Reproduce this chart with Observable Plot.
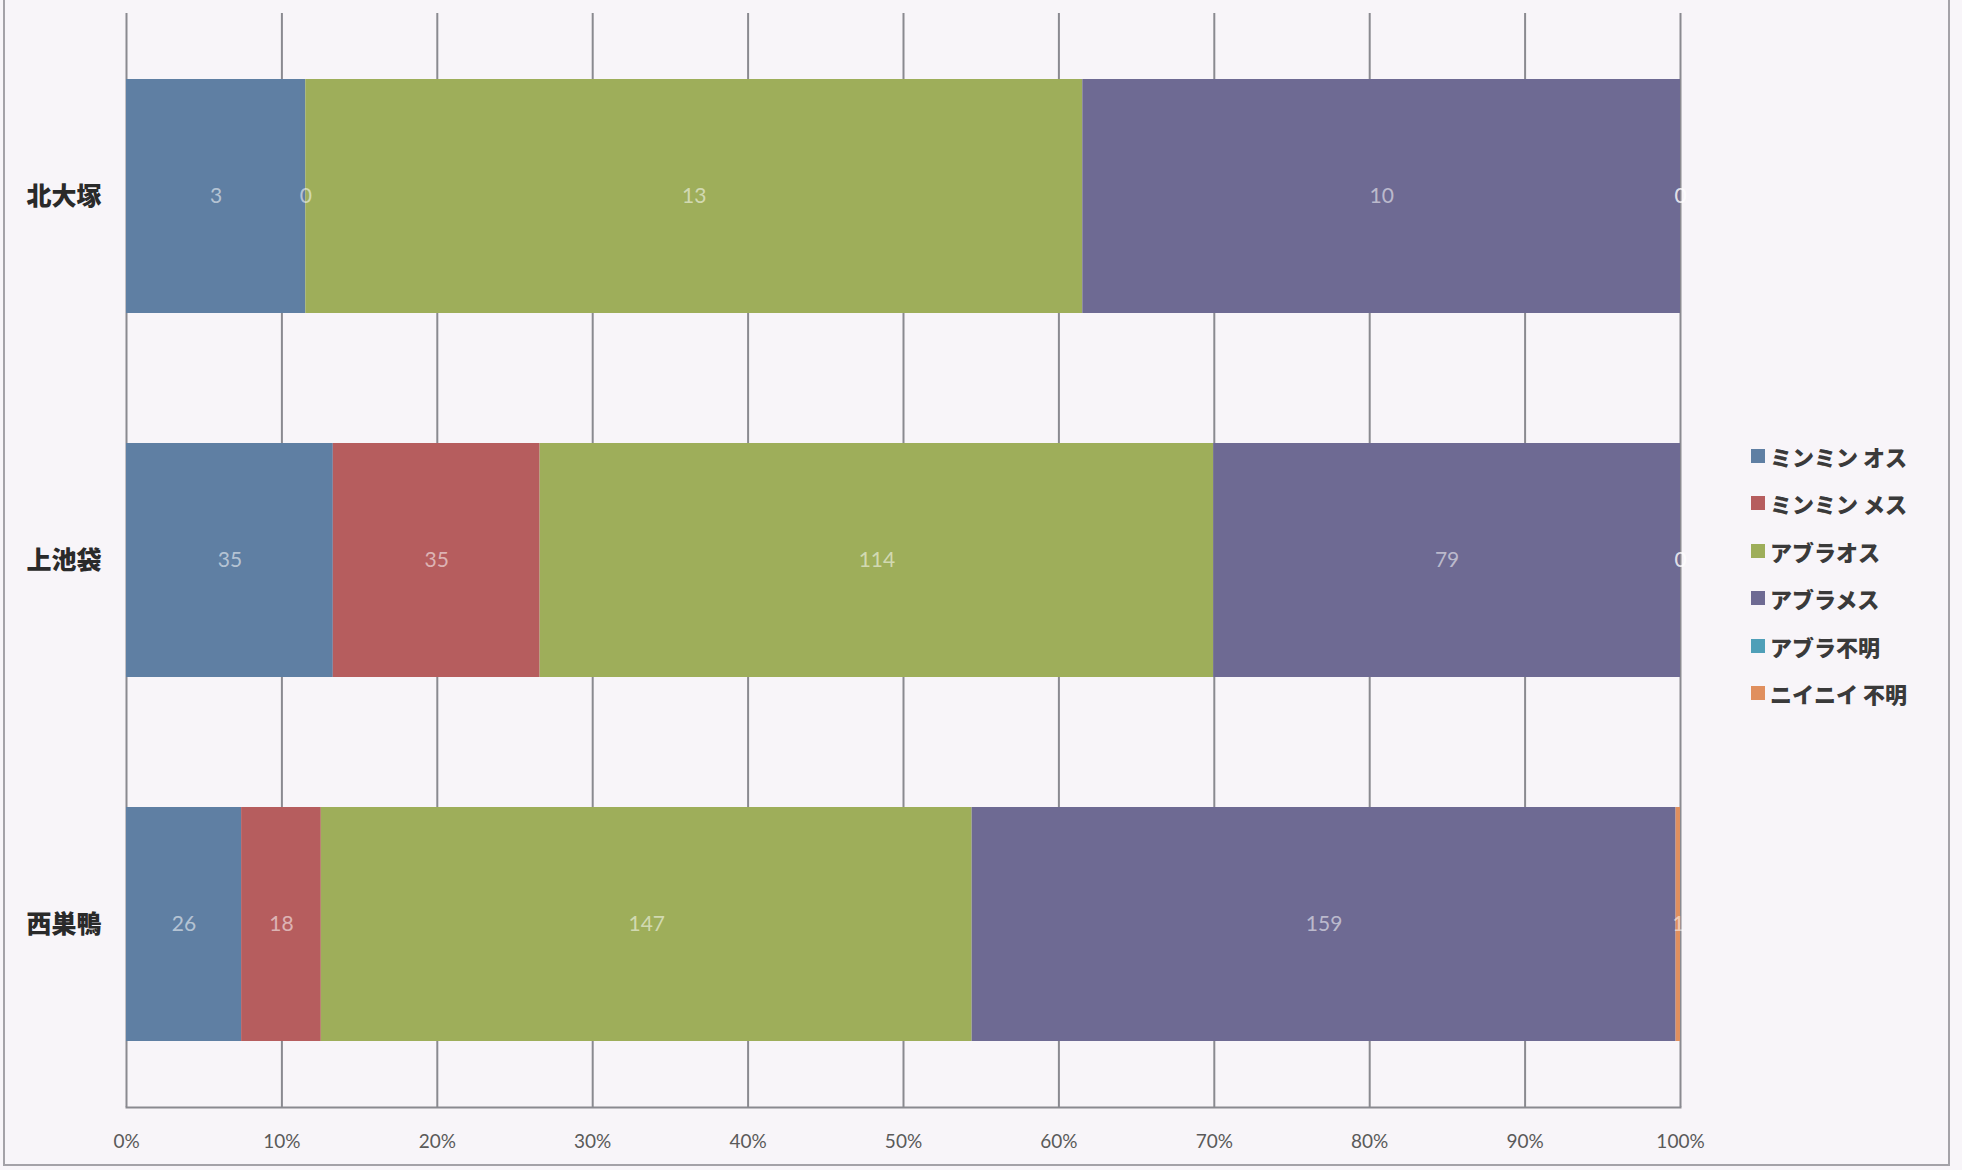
<!DOCTYPE html>
<html>
<head>
<meta charset="utf-8">
<script src="https://cdn.jsdelivr.net/npm/d3@7"></script>
<script src="https://cdn.jsdelivr.net/npm/@observablehq/plot@0.6"></script>
<style>
  html, body { margin: 0; padding: 0; background: #f8f5f9; }
  body { width: 1962px; height: 1170px; position: relative; overflow: hidden; }
  #frame { position: absolute; left: 3px; top: -10px; width: 1947px; height: 1176px;
           border: 2px solid #a4a2a8; box-sizing: border-box; }
  #chart { position: absolute; left: 0; top: 0; }
  #legend { position: absolute; left: 1751px; top: 432px;
            font-family: "Noto Sans CJK JP", "Noto Sans", sans-serif; font-weight: 900;
            font-size: 22px; color: #3a3a3a; }
  .item { height: 47.5px; display: flex; align-items: center; white-space: pre; }
  .sw { width: 14px; height: 14px; margin-right: 5px; display: inline-block; }
</style>
</head>
<body>
<div id="frame"></div>
<div id="chart"></div>
<div id="legend"></div>
<script>
const sites = ["北大塚", "上池袋", "西巣鴨"];
const species = ["ミンミン オス", "ミンミン メス", "アブラオス", "アブラメス", "アブラ不明", "ニイニイ 不明"];
const colors = ["#5f7fa3", "#b65d5e", "#9eae5a", "#6e6a93", "#4f9fb8", "#e08f5e"];
// values per site, in species order (null = blank cell, no label)
const kitaotsuka = [3, 0, 13, 10, 0, 0];
const kamiikebukuro = [35, 35, 114, 79, 0, 0];
const nishisugamo = [26, 18, 147, 159, null, 1];
const xTicks = [0, 0.1, 0.2, 0.3, 0.4, 0.5, 0.6, 0.7, 0.8, 0.9, 1];

const seriesBySite = [kitaotsuka, kamiikebukuro, nishisugamo];
const data = [];
sites.forEach((s, i) => species.forEach((sp, j) => {
  const v = seriesBySite[i][j];
  if (v !== null) data.push({site: s, species: sp, value: v});
}));

const stackOpts = {x: "value", y: "site", z: "species", order: species, offset: "normalize"};

const chart = Plot.plot({
  width: 1725,
  height: 1170,
  marginLeft: 126,
  marginRight: 45,
  marginTop: 13,
  marginBottom: 63,
  style: {background: "transparent", fontFamily: "Lato, 'Noto Sans CJK JP', sans-serif", color: "#444"},
  x: {domain: [0, 1], ticks: xTicks, tickFormat: d3.format(".0%"), label: null},
  y: {domain: sites, paddingInner: 0.356, paddingOuter: 0.178, label: null},
  color: {domain: species, range: colors},
  marks: [
    Plot.gridX(xTicks, {stroke: "#8a8a90", strokeOpacity: 1, strokeWidth: 2}),
    Plot.frame({anchor: "bottom", stroke: "#8a8a90", strokeWidth: 2}),
    Plot.axisX({ticks: xTicks, tickFormat: d3.format(".0%"), tickSize: 0, tickPadding: 27, fontSize: 19, fill: "#5a5a5a", label: null}),
    Plot.axisY({tickSize: 0, tickPadding: 25, fontSize: 25, fontWeight: 900, fill: "#2a2a2a", fontFamily: "'Noto Sans CJK JP', sans-serif", label: null}),
    Plot.barX(data, Plot.stackX({...stackOpts, fill: "species"})),
    Plot.text(data, Plot.stackX({...stackOpts, text: d => String(d.value), fill: "white", fillOpacity: 0.55, fontSize: 21}))
  ]
});
document.getElementById("chart").appendChild(chart);

const legend = document.getElementById("legend");
species.forEach((sp, i) => {
  const d = document.createElement("div");
  d.className = "item";
  d.innerHTML = `<span class="sw" style="background:${colors[i]}"></span><span>${sp}</span>`;
  legend.appendChild(d);
});
</script>
</body>
</html>
